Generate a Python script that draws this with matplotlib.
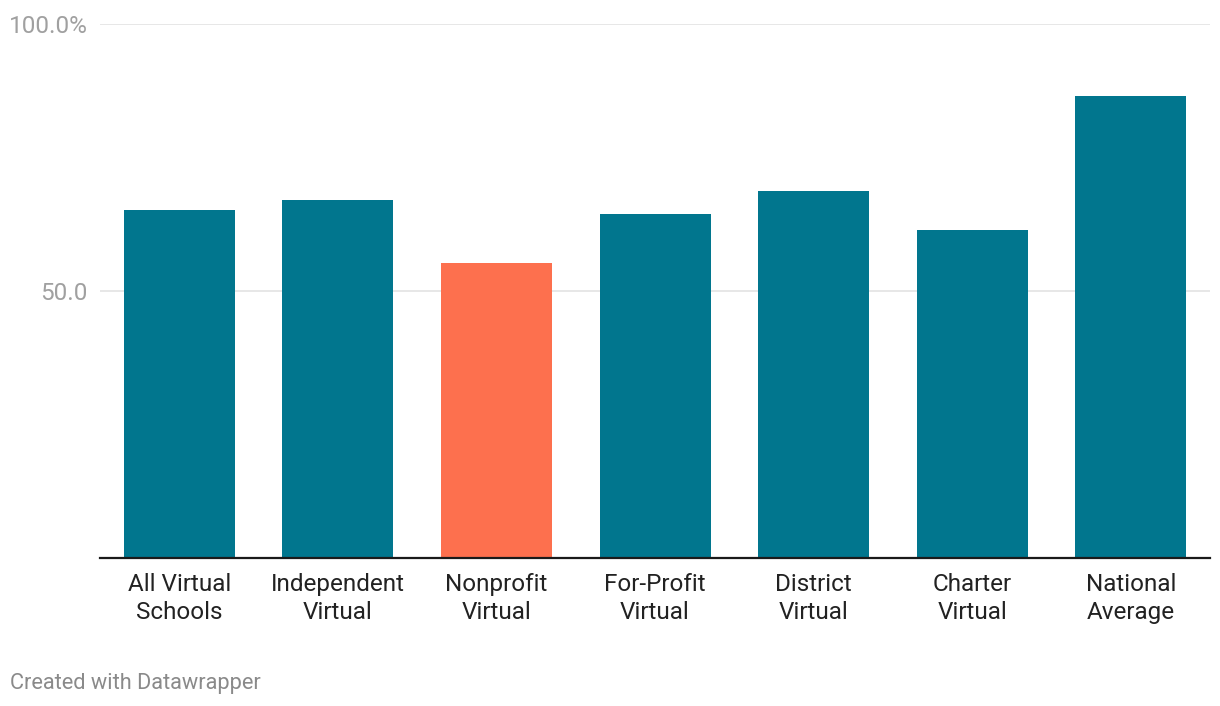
import numpy as np
import matplotlib.pyplot as plt

# data
categories = ["All Virtual\nSchools", "Independent\nVirtual", "Nonprofit\nVirtual",
              "For-Profit\nVirtual", "District\nVirtual", "Charter\nVirtual",
              "National\nAverage"]
values = [65.1, 67.0, 55.3, 64.4, 68.7, 61.4, 86.5]
highlight = "Nonprofit\nVirtual"

teal = "#01768e"
orange = "#fd704e"

plt.rcParams['font.family'] = ['Roboto', 'DejaVu Sans']

fig = plt.figure(figsize=(12.2, 7.06), dpi=100)
ax = fig.add_axes([100/1220, 148/706, 1110/1220, 534/706])

x = np.arange(len(categories))
colors = [orange if c == highlight else teal for c in categories]
ax.bar(x, values, width=0.7, color=colors, zorder=2)

ax.set_xlim(-0.5, len(categories) - 0.5)
ax.set_ylim(0, 100)
ax.set_yticks([50, 100])
ax.set_yticklabels(["50.0", "100.0%"], color="#a0a0a0", fontsize=17.5)
ax.yaxis.grid(True, color="#e3e3e3", linewidth=1.2, zorder=0)
ax.tick_params(axis="y", length=0, pad=9)

ax.set_xticks(x)
ax.set_xticklabels(categories, fontsize=17.5, color="#222222", linespacing=1.25)
ax.tick_params(axis="x", length=0, pad=11)

for s in ["top", "right", "left"]:
    ax.spines[s].set_visible(False)
ax.spines["bottom"].set_color("#1a1a1a")
ax.spines["bottom"].set_linewidth(1.6)
ax.spines["bottom"].set_zorder(3)

fig.text(10/1220, 1 - 683/706, "Created with Datawrapper", fontsize=15.7,
         color="#8a8a8a", va="center", ha="left")

fig.savefig("out.png", dpi=100, facecolor="white")
